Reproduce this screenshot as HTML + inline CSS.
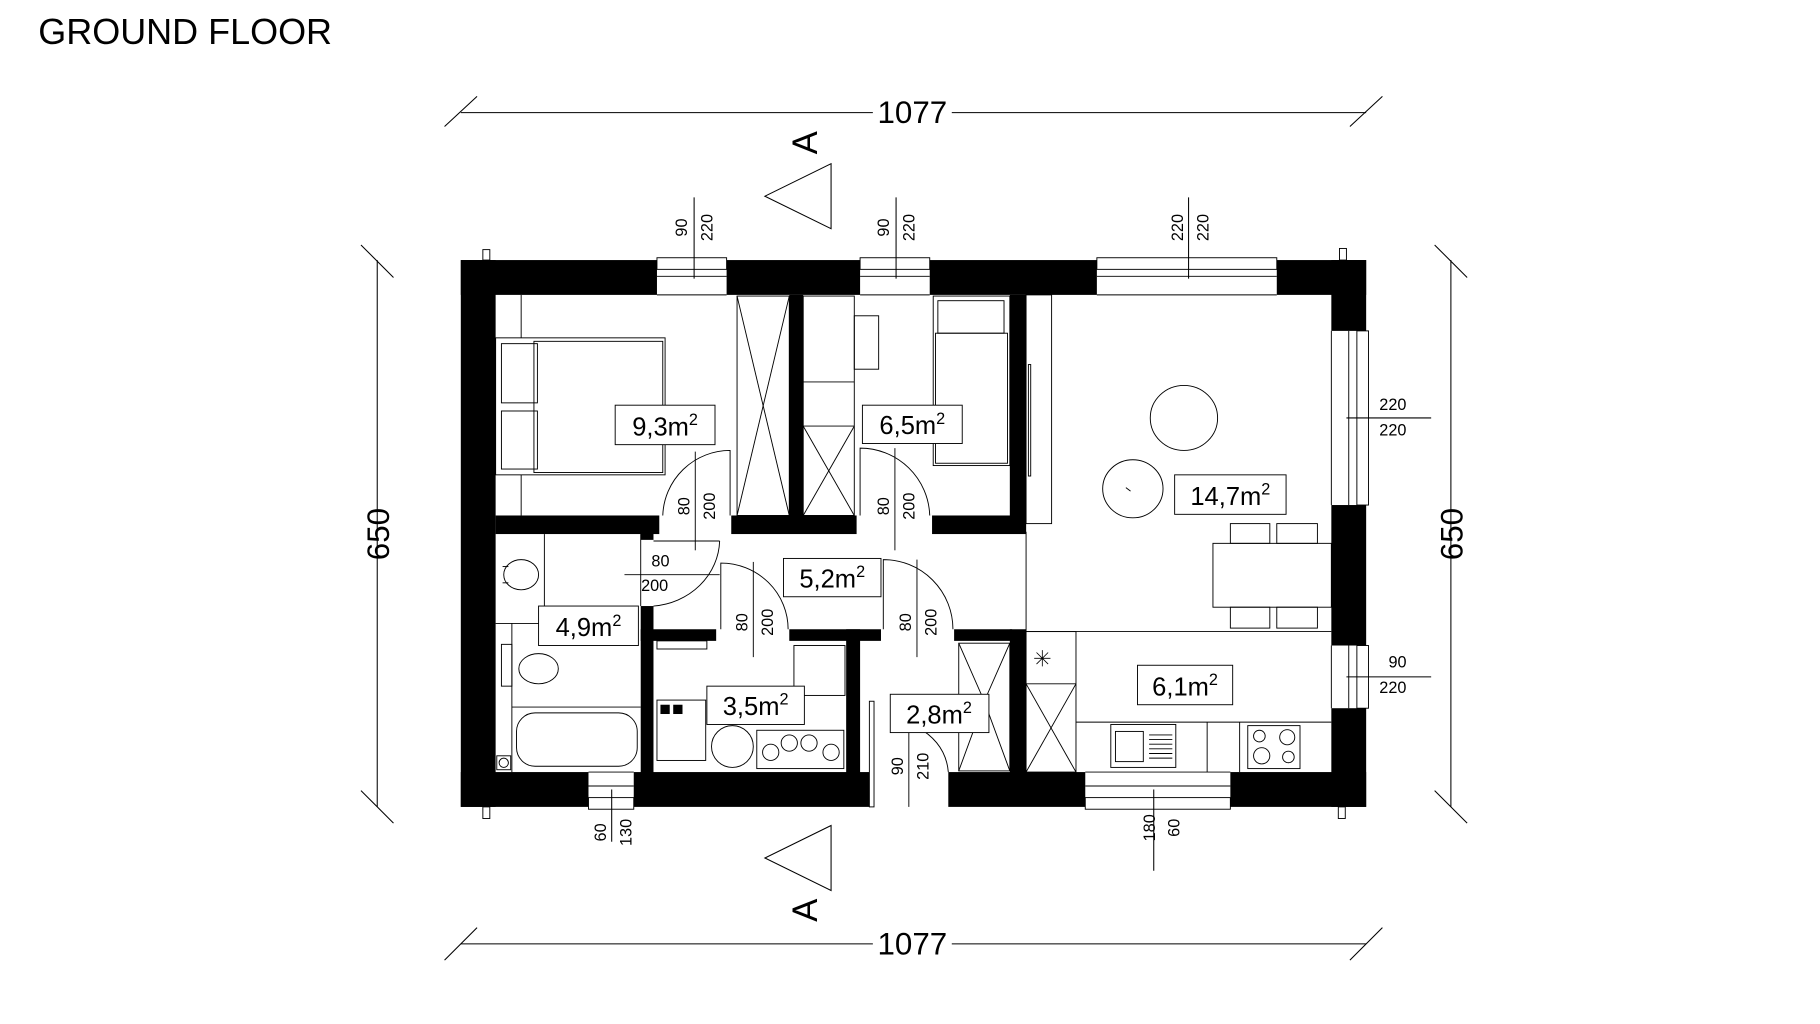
<!DOCTYPE html>
<html><head><meta charset="utf-8"><style>html,body{margin:0;padding:0;background:#fff}svg{display:block}</style></head>
<body>
<svg width="1820" height="1024" viewBox="0 0 1568 882" preserveAspectRatio="none" xmlns="http://www.w3.org/2000/svg" font-family="Liberation Sans, sans-serif">
<rect width="1568" height="882" fill="#fff"/>
<text x="33" y="38" font-size="31">GROUND FLOOR</text>

<g stroke="#000" stroke-width="0.9" fill="none">
<line x1="397" y1="97" x2="1177" y2="97"/><line x1="383" y1="109" x2="411" y2="83"/><line x1="1163" y1="109" x2="1191" y2="83"/>
<line x1="397" y1="813" x2="1177" y2="813"/><line x1="383" y1="827" x2="411" y2="799"/><line x1="1163" y1="827" x2="1191" y2="799"/>
<line x1="325" y1="224" x2="325" y2="695"/><line x1="311" y1="211" x2="339" y2="239"/><line x1="311" y1="681" x2="339" y2="709"/>
<line x1="1250" y1="224" x2="1250" y2="695"/><line x1="1236" y1="211" x2="1264" y2="239"/><line x1="1236" y1="681" x2="1264" y2="709"/>
<polygon points="716,141 716,197 659,169"/><polygon points="716,711 716,767 659,739"/>
<line x1="598" y1="170" x2="598" y2="240"/><line x1="772" y1="170" x2="772" y2="240"/><line x1="1024" y1="170" x2="1024" y2="240"/>
<line x1="1160" y1="360" x2="1233" y2="360"/><line x1="1160" y1="583" x2="1233" y2="583"/>
<line x1="527" y1="680" x2="527" y2="725"/><line x1="994" y1="680" x2="994" y2="750"/>
</g>
<g font-size="27" text-anchor="middle">
<rect x="752" y="85" width="68" height="24" fill="#fff"/><text x="786" y="106">1077</text>
<rect x="752" y="801" width="68" height="24" fill="#fff"/><text x="786" y="822">1077</text>
<text transform="translate(335,460) rotate(-90)">650</text>
<text transform="translate(1260,460) rotate(-90)">650</text>
<text transform="translate(704,123) rotate(-90)" font-size="30">A</text>
<text transform="translate(704,784) rotate(-90)" font-size="30">A</text>
</g>

<g fill="#000">
<rect x="397" y="224" width="169" height="30"/><rect x="626" y="224" width="115" height="30"/><rect x="801" y="224" width="144" height="30"/><rect x="1100" y="224" width="77" height="30"/>
<rect x="397" y="224" width="30" height="471"/>
<rect x="1147" y="224" width="30" height="61"/><rect x="1147" y="435" width="30" height="121"/><rect x="1147" y="610" width="30" height="85"/>
<rect x="397" y="665" width="110" height="30"/><rect x="546" y="665" width="203" height="30"/><rect x="817" y="665" width="118" height="30"/><rect x="1060" y="665" width="117" height="30"/>
<rect x="427" y="444" width="141" height="16"/><rect x="630" y="444" width="108" height="16"/><rect x="803" y="444" width="81" height="16"/>
<rect x="680" y="254" width="12" height="200"/><rect x="870" y="254" width="14" height="204"/>
<rect x="870" y="542" width="14" height="125"/>
<rect x="552" y="458" width="11" height="7"/><rect x="552" y="522" width="11" height="145"/>
<rect x="552" y="542" width="65" height="10"/><rect x="680" y="542" width="79" height="10"/><rect x="822" y="542" width="50" height="10"/>
<rect x="729" y="542" width="12" height="125"/>
</g>

<g stroke="#000" stroke-width="0.8" fill="none">
<rect x="566" y="222" width="60" height="10"/><line x1="566" y1="238" x2="626" y2="238"/><line x1="566" y1="254" x2="626" y2="254"/>
<rect x="741" y="222" width="60" height="10"/><line x1="741" y1="238" x2="801" y2="238"/><line x1="741" y1="254" x2="801" y2="254"/>
<rect x="945" y="222" width="155" height="10"/><line x1="945" y1="238" x2="1100" y2="238"/><line x1="945" y1="254" x2="1100" y2="254"/>
<rect x="1169" y="285" width="10" height="150"/><line x1="1162" y1="285" x2="1162" y2="435"/><line x1="1147" y1="285" x2="1147" y2="435"/>
<rect x="1169" y="556" width="10" height="54"/><line x1="1162" y1="556" x2="1162" y2="610"/><line x1="1147" y1="556" x2="1147" y2="610"/>
<rect x="507" y="687" width="39" height="10"/><line x1="507" y1="677" x2="546" y2="677"/><line x1="507" y1="665" x2="546" y2="665"/>
<rect x="935" y="687" width="125" height="10"/><line x1="935" y1="677" x2="1060" y2="677"/><line x1="935" y1="665" x2="1060" y2="665"/>
<rect x="416" y="215" width="6" height="9"/><rect x="1154" y="214" width="6" height="10"/><rect x="416" y="695" width="6" height="10"/><rect x="1153" y="695" width="6" height="10"/>

<rect x="427" y="291" width="146" height="118"/><rect x="460" y="294" width="111" height="113"/>
<rect x="432" y="296" width="31" height="51"/><rect x="432" y="354" width="31" height="50"/>
<line x1="449" y1="254" x2="449" y2="291"/><line x1="449" y1="409" x2="449" y2="444"/>
<rect x="635" y="255" width="45" height="189"/><line x1="635" y1="255" x2="680" y2="444"/><line x1="680" y1="255" x2="635" y2="444"/>
<path d="M629 444 V388 A58 58 0 0 0 571 444"/><line x1="599" y1="389" x2="599" y2="474"/>
<rect x="692" y="255" width="44" height="189"/><line x1="692" y1="329" x2="736" y2="329"/><line x1="692" y1="367" x2="736" y2="367"/>
<line x1="692" y1="367" x2="736" y2="444"/><line x1="736" y1="367" x2="692" y2="444"/>
<rect x="736" y="272" width="21" height="46"/>
<rect x="804" y="255" width="66" height="146"/><rect x="808" y="259" width="57" height="28"/><rect x="806" y="287" width="62" height="112"/>
<path d="M741 444 V386 A60 60 0 0 1 801 444"/><line x1="771" y1="386" x2="771" y2="474"/>
<rect x="884" y="254" width="22" height="197"/><rect x="886" y="314" width="2" height="96"/>
<ellipse cx="1020" cy="360" rx="29" ry="28"/><ellipse cx="976" cy="421" rx="26" ry="25"/><line x1="970" y1="420" x2="974" y2="423"/>
<rect x="1045" y="468" width="102" height="55"/>
<rect x="1060" y="451" width="34" height="17"/><rect x="1100" y="451" width="35" height="17"/>
<rect x="1060" y="523" width="34" height="18"/><rect x="1100" y="523" width="35" height="18"/>
<line x1="884" y1="458" x2="884" y2="544"/>
<line x1="884" y1="544" x2="1147" y2="544"/>
<rect x="884" y="544" width="43" height="121"/><line x1="884" y1="589" x2="927" y2="589"/>
<line x1="884" y1="589" x2="927" y2="665"/><line x1="927" y1="589" x2="884" y2="665"/>
<path d="M898 560 V574 M891 567 H905 M893 562 L903 572 M903 562 L893 572" stroke-width="0.7"/>
<line x1="927" y1="622" x2="1147" y2="622"/>
<rect x="957" y="624" width="56" height="37"/><rect x="961" y="630" width="24" height="26"/>
<path d="M990 633 H1010 M990 637 H1010 M990 641 H1010 M990 645 H1010 M990 649 H1010 M990 653 H1010"/>
<line x1="1040" y1="622" x2="1040" y2="665"/><line x1="1068" y1="622" x2="1068" y2="665"/>
<rect x="1075" y="625" width="45" height="37"/>
<circle cx="1085" cy="634" r="5"/><circle cx="1109" cy="635" r="6.5"/><circle cx="1087" cy="651" r="7"/><circle cx="1110" cy="652" r="5"/>
<line x1="469" y1="460" x2="469" y2="537"/><line x1="427" y1="537" x2="469" y2="537"/>
<ellipse cx="449" cy="495" rx="15" ry="13"/><line x1="433" y1="488" x2="438" y2="488"/><line x1="433" y1="502" x2="438" y2="502"/>
<rect x="432" y="555" width="9" height="36"/><ellipse cx="464" cy="576" rx="17" ry="13"/>
<line x1="441" y1="537" x2="441" y2="665"/>
<line x1="441" y1="609" x2="552" y2="609"/><rect x="445" y="614" width="104" height="46" rx="16"/>
<rect x="428" y="651" width="12" height="12"/><circle cx="434" cy="657" r="4"/>
<line x1="552" y1="460" x2="552" y2="522"/><line x1="563" y1="466" x2="620" y2="466"/>
<path d="M620 466 A62 58 0 0 1 563 522"/><line x1="538" y1="495" x2="620" y2="495"/>
<path d="M621 542 V485 A58 57 0 0 1 679 542"/><line x1="649" y1="484" x2="649" y2="566"/>
<path d="M761 542 V482 A60 60 0 0 1 821 542"/><line x1="790" y1="482" x2="790" y2="566"/>
<rect x="566" y="552" width="43" height="7"/>
<rect x="684" y="556" width="44" height="43"/>
<rect x="566" y="603" width="42" height="52"/>
<circle cx="631" cy="643" r="18"/>
<rect x="652" y="629" width="75" height="33"/>
<circle cx="664" cy="648" r="7"/><circle cx="680" cy="640" r="7"/><circle cx="697" cy="640" r="7"/><circle cx="716" cy="648" r="7"/>
<rect x="826" y="554" width="44" height="110"/><path d="M826 554 L848 604 L826 664 M870 554 L848 604 L870 664"/>
<rect x="749" y="604" width="4" height="91"/>
<path d="M790 626 Q815 640 817 665"/><line x1="783" y1="630" x2="783" y2="695"/>
</g>
<g fill="#000"><rect x="569" y="607" width="8" height="8"/><rect x="580" y="607" width="8" height="8"/></g>

<g stroke="#000" stroke-width="0.8" fill="#fff">
<rect x="530" y="349" width="86" height="34"/><rect x="743" y="349" width="86" height="33"/>
<rect x="1012" y="409" width="96" height="34"/><rect x="675" y="481" width="84" height="33"/>
<rect x="464" y="522" width="86" height="34"/><rect x="609" y="591" width="84" height="33"/>
<rect x="767" y="598" width="85" height="33"/><rect x="980" y="573" width="82" height="34"/>
</g>
<g font-size="22" text-anchor="middle">
<text x="573" y="375">9,3m<tspan font-size="14" dy="-9">2</tspan></text>
<text x="786" y="374">6,5m<tspan font-size="14" dy="-9">2</tspan></text>
<text x="1060" y="435">14,7m<tspan font-size="14" dy="-9">2</tspan></text>
<text x="717" y="506">5,2m<tspan font-size="14" dy="-9">2</tspan></text>
<text x="507" y="548">4,9m<tspan font-size="14" dy="-9">2</tspan></text>
<text x="651" y="616">3,5m<tspan font-size="14" dy="-9">2</tspan></text>
<text x="809" y="623">2,8m<tspan font-size="14" dy="-9">2</tspan></text>
<text x="1021" y="599">6,1m<tspan font-size="14" dy="-9">2</tspan></text>
</g>
<g font-size="14" text-anchor="middle">
<text transform="translate(592,196) rotate(-90)">90</text><text transform="translate(614,196) rotate(-90)">220</text>
<text transform="translate(766,196) rotate(-90)">90</text><text transform="translate(788,196) rotate(-90)">220</text>
<text transform="translate(1019,196) rotate(-90)">220</text><text transform="translate(1041,196) rotate(-90)">220</text>
<text transform="translate(594,436) rotate(-90)">80</text><text transform="translate(616,436) rotate(-90)">200</text>
<text transform="translate(766,436) rotate(-90)">80</text><text transform="translate(788,436) rotate(-90)">200</text>
<text transform="translate(644,536) rotate(-90)">80</text><text transform="translate(666,536) rotate(-90)">200</text>
<text transform="translate(785,536) rotate(-90)">80</text><text transform="translate(807,536) rotate(-90)">200</text>
<text transform="translate(778,660) rotate(-90)">90</text><text transform="translate(800,660) rotate(-90)">210</text>
<text transform="translate(522,717) rotate(-90)">60</text><text transform="translate(544,717) rotate(-90)">130</text>
<text transform="translate(995,713) rotate(-90)">180</text><text transform="translate(1016,713) rotate(-90)">60</text>
<text x="569" y="488">80</text><text x="564" y="509">200</text>
<text x="1200" y="353">220</text><text x="1200" y="375">220</text>
<text x="1204" y="575">90</text><text x="1200" y="597">220</text>
</g>
</svg>
</body></html>
